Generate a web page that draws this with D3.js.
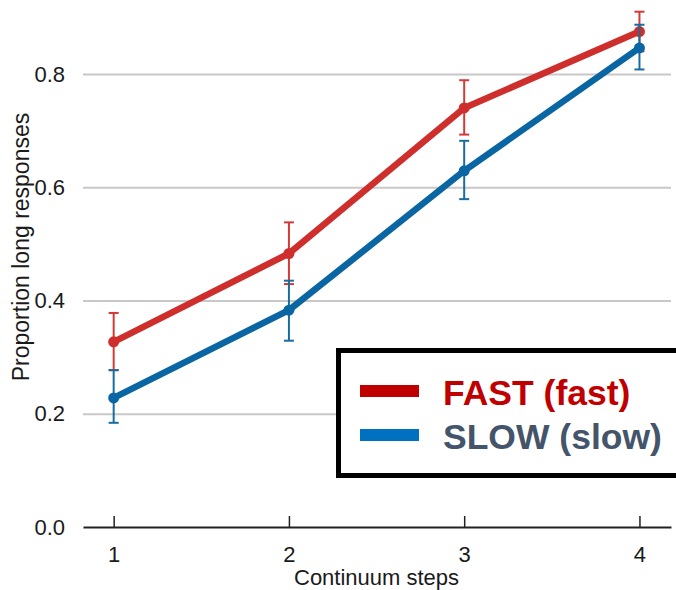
<!DOCTYPE html>
<html>
<head>
<meta charset="utf-8">
<script src="https://cdn.jsdelivr.net/npm/d3@7"></script>
<style>
  html, body { margin: 0; padding: 0; background: #ffffff; }
  svg { display: block; font-family: "Liberation Sans", Arial, sans-serif; }
</style>
</head>
<body>
<svg id="chart" width="676" height="590"></svg>
<script>
// Continuum steps on the x axis
const steps = [1, 2, 3, 4];

// Proportion of "long" responses per step, with error-bar bounds
const fastMean  = [0.327, 0.483, 0.740, 0.875];
const fastLow   = [0.277, 0.429, 0.693, 0.840];
const fastHigh  = [0.378, 0.538, 0.789, 0.910];

const slowMean  = [0.228, 0.383, 0.629, 0.846];
const slowLow   = [0.184, 0.329, 0.579, 0.808];
const slowHigh  = [0.277, 0.435, 0.682, 0.887];

const yTicks = [0, 0.2, 0.4, 0.6, 0.8];
const seriesNames = ["FAST (fast)", "SLOW (slow)"];

const series = [
  { name: seriesNames[0], mean: fastMean, low: fastLow, high: fastHigh,
    line: "#cf2f2c", bar: "#d23a36", key: "#c00000", text: "#c00000" },
  { name: seriesNames[1], mean: slowMean, low: slowLow, high: slowHigh,
    line: "#0a66a2", bar: "#1a6c9e", key: "#0070c0", text: "#44546a" }
];

const svg = d3.select("#chart");

const x = d3.scaleLinear().domain([0.825, 4.18]).range([83, 671]);
const y = d3.scaleLinear().domain([0, 0.8]).range([527, 74]);

// Horizontal gridlines with labels on the left
const yAxis = svg.append("g")
  .attr("transform", `translate(${x.range()[0]},0)`)
  .call(d3.axisLeft(y)
    .tickValues(yTicks)
    .tickFormat(d3.format(".1f"))
    .tickSize(-(x.range()[1] - x.range()[0]))
    .tickPadding(18));
yAxis.select(".domain").remove();
yAxis.selectAll(".tick line")
  .attr("stroke", "#c8c8c8")
  .attr("stroke-width", 2)
  .attr("stroke", d => d === 0 ? "none" : "#c8c8c8");
yAxis.selectAll(".tick text")
  .attr("font-size", 22)
  .attr("fill", "#1a1a1a")
  .attr("font-family", "Liberation Sans, Arial, sans-serif");

// Bottom axis with short upward ticks
const xAxis = svg.append("g")
  .attr("transform", `translate(0,${y(0)})`)
  .call(d3.axisBottom(x)
    .tickValues(steps)
    .tickFormat(d3.format("d"))
    .tickSizeInner(-11)
    .tickSizeOuter(0)
    .tickPadding(19));
xAxis.select(".domain").attr("stroke", "#222").attr("stroke-width", 2);
xAxis.selectAll(".tick line").attr("stroke", "#222").attr("stroke-width", 1.5);
xAxis.selectAll(".tick text")
  .attr("font-size", 22)
  .attr("fill", "#1a1a1a")
  .attr("font-family", "Liberation Sans, Arial, sans-serif");

// Axis titles
svg.append("text")
  .attr("x", (x(1) + x(4)) / 2)
  .attr("y", 585)
  .attr("text-anchor", "middle")
  .attr("font-size", 22)
  .attr("fill", "#1a1a1a")
  .text("Continuum steps");

svg.append("text")
  .attr("transform", "translate(29,247) rotate(-90)")
  .attr("text-anchor", "middle")
  .attr("font-size", 23)
  .attr("fill", "#1a1a1a")
  .text("Proportion long responses");

// Error bars, then lines and points, one series after another
const lineGen = d3.line().x((d, i) => x(steps[i])).y(d => y(d));
const capHalf = 5;

series.forEach(s => {
  const g = svg.append("g");
  steps.forEach((st, i) => {
    const cx = x(st);
    g.append("line")
      .attr("x1", cx).attr("x2", cx)
      .attr("y1", y(s.low[i])).attr("y2", y(s.high[i]))
      .attr("stroke", s.bar).attr("stroke-width", 2);
    [s.low[i], s.high[i]].forEach(v => {
      g.append("line")
        .attr("x1", cx - capHalf).attr("x2", cx + capHalf)
        .attr("y1", y(v)).attr("y2", y(v))
        .attr("stroke", s.bar).attr("stroke-width", 2);
    });
  });
  g.append("path")
    .datum(s.mean)
    .attr("d", lineGen)
    .attr("fill", "none")
    .attr("stroke", s.line)
    .attr("stroke-width", 6.5)
    .attr("stroke-linejoin", "round");
  g.selectAll("circle")
    .data(s.mean)
    .join("circle")
    .attr("cx", (d, i) => x(steps[i]))
    .attr("cy", d => y(d))
    .attr("r", 5.5)
    .attr("fill", s.line);
});

// Legend box running off the right edge
const legend = svg.append("g");
legend.append("rect")
  .attr("x", 338.5).attr("y", 350.5)
  .attr("width", 400).attr("height", 125)
  .attr("fill", "#ffffff")
  .attr("stroke", "#000000")
  .attr("stroke-width", 5);

series.forEach((s, i) => {
  const cy = 391 + i * 44;
  legend.append("rect")
    .attr("x", 360).attr("y", cy - 6)
    .attr("width", 59).attr("height", 12)
    .attr("fill", s.key);
  legend.append("text")
    .attr("x", 443).attr("y", cy + 14)
    .attr("font-size", 35.5)
    .attr("font-weight", "bold")
    .attr("fill", s.text)
    .text(s.name);
});
</script>
</body>
</html>
